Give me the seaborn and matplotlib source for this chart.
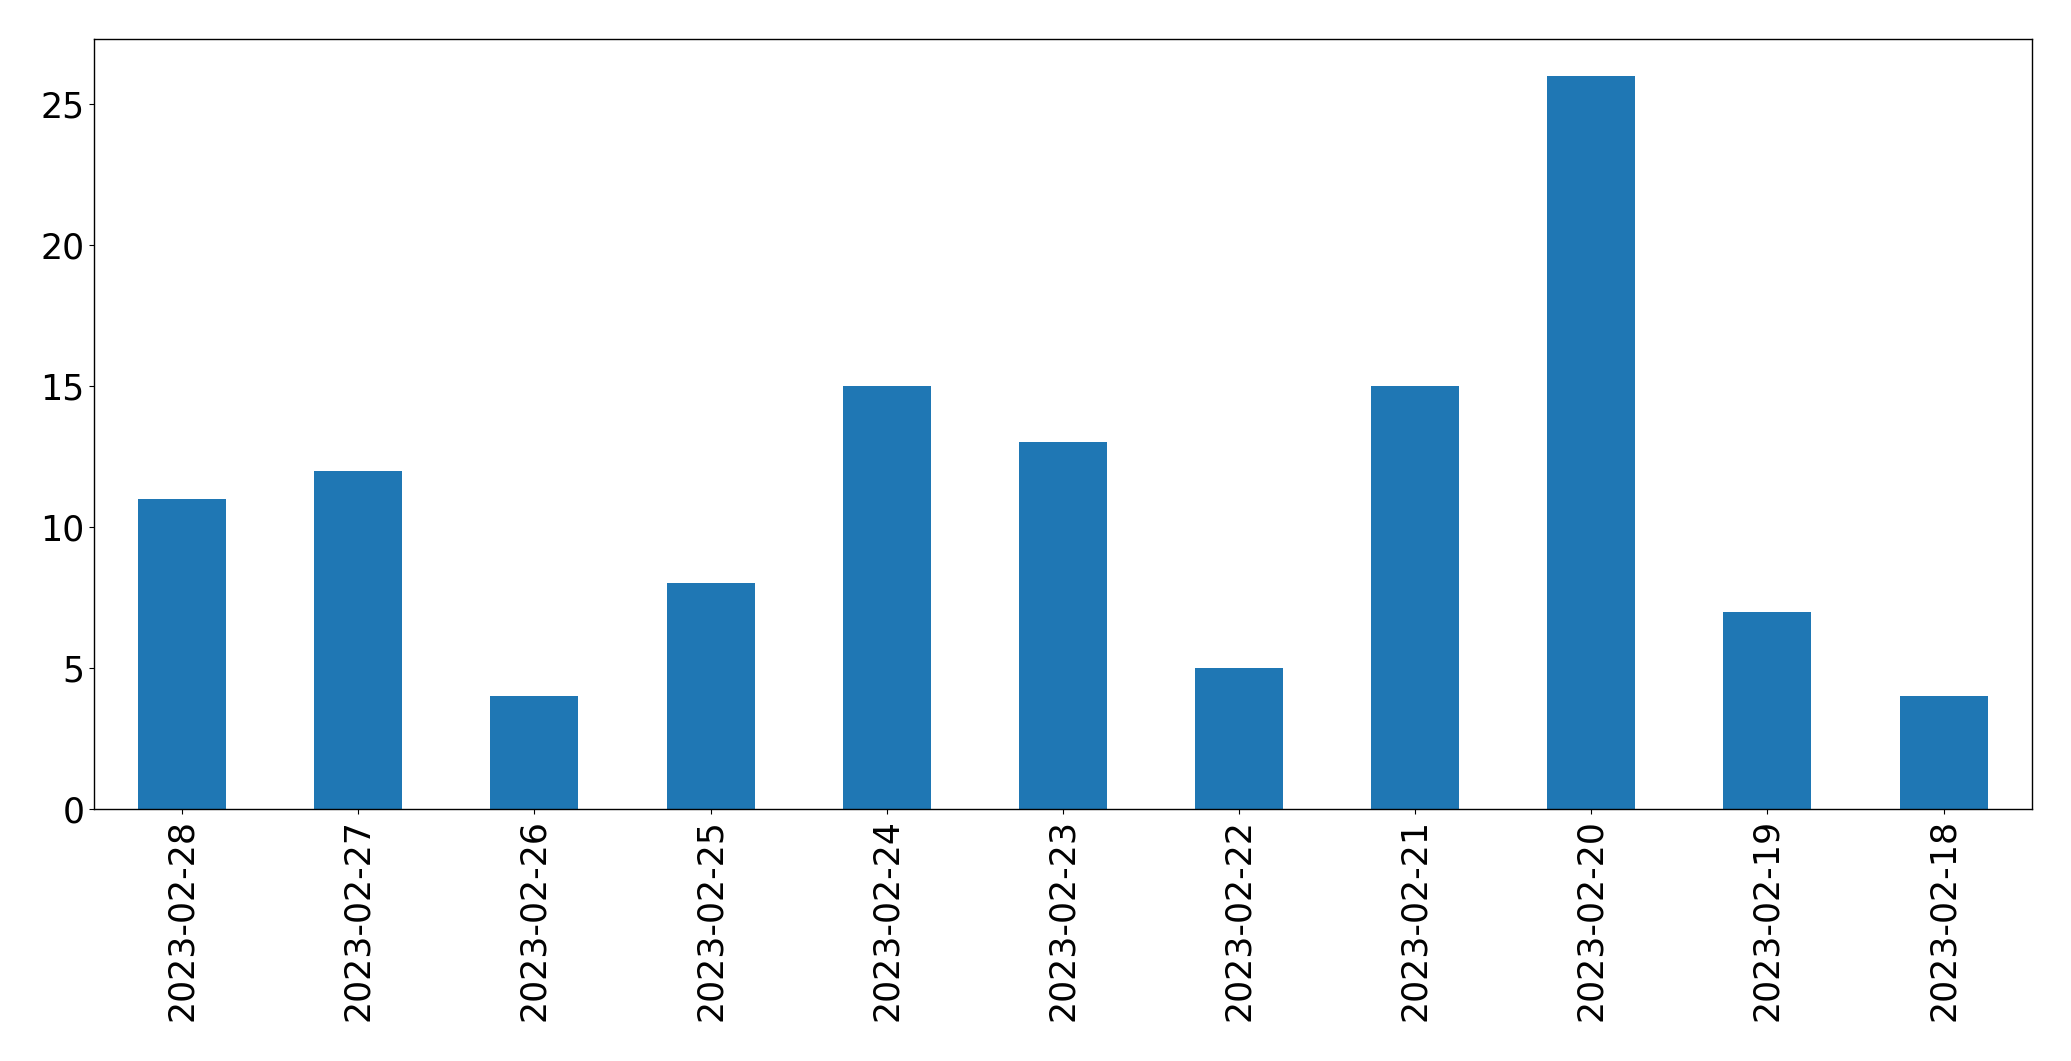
import seaborn as sns
import matplotlib.pyplot as plt

fechas = ['2023-02-28', '2023-02-27', '2023-02-26', '2023-02-25', '2023-02-24',
          '2023-02-23', '2023-02-22', '2023-02-21', '2023-02-20', '2023-02-19',
          '2023-02-18']
conteos = [11, 12, 4, 8, 15, 13, 5, 15, 26, 7, 4]

sns.set_style('ticks')
plt.rcParams['font.family'] = ['DejaVu Sans']
plt.rcParams['text.color'] = 'black'
plt.rcParams['xtick.color'] = 'black'
plt.rcParams['ytick.color'] = 'black'
plt.rcParams['axes.edgecolor'] = 'black'

fig, ax = plt.subplots(figsize=(20.71, 10.61), dpi=100)
sns.barplot(x=fechas, y=conteos, ax=ax, color='#1f77b4', saturation=1,
            width=0.5, order=fechas, linewidth=0, edgecolor='none')

ax.set_xlim(-0.5, len(fechas) - 0.5)
ax.set_ylim(0, max(conteos) * 1.05)
ax.tick_params(axis='both', labelsize=25, colors='black')
ax.tick_params(axis='x', labelrotation=90)
for s in ax.spines.values():
    s.set_visible(True)
    s.set_color('black')
    s.set_linewidth(1)
ax.set_xlabel('')
ax.set_ylabel('')

fig.subplots_adjust(left=0.0454, right=0.981, bottom=0.2375, top=0.9632)
fig.savefig('out.png', dpi=100)
